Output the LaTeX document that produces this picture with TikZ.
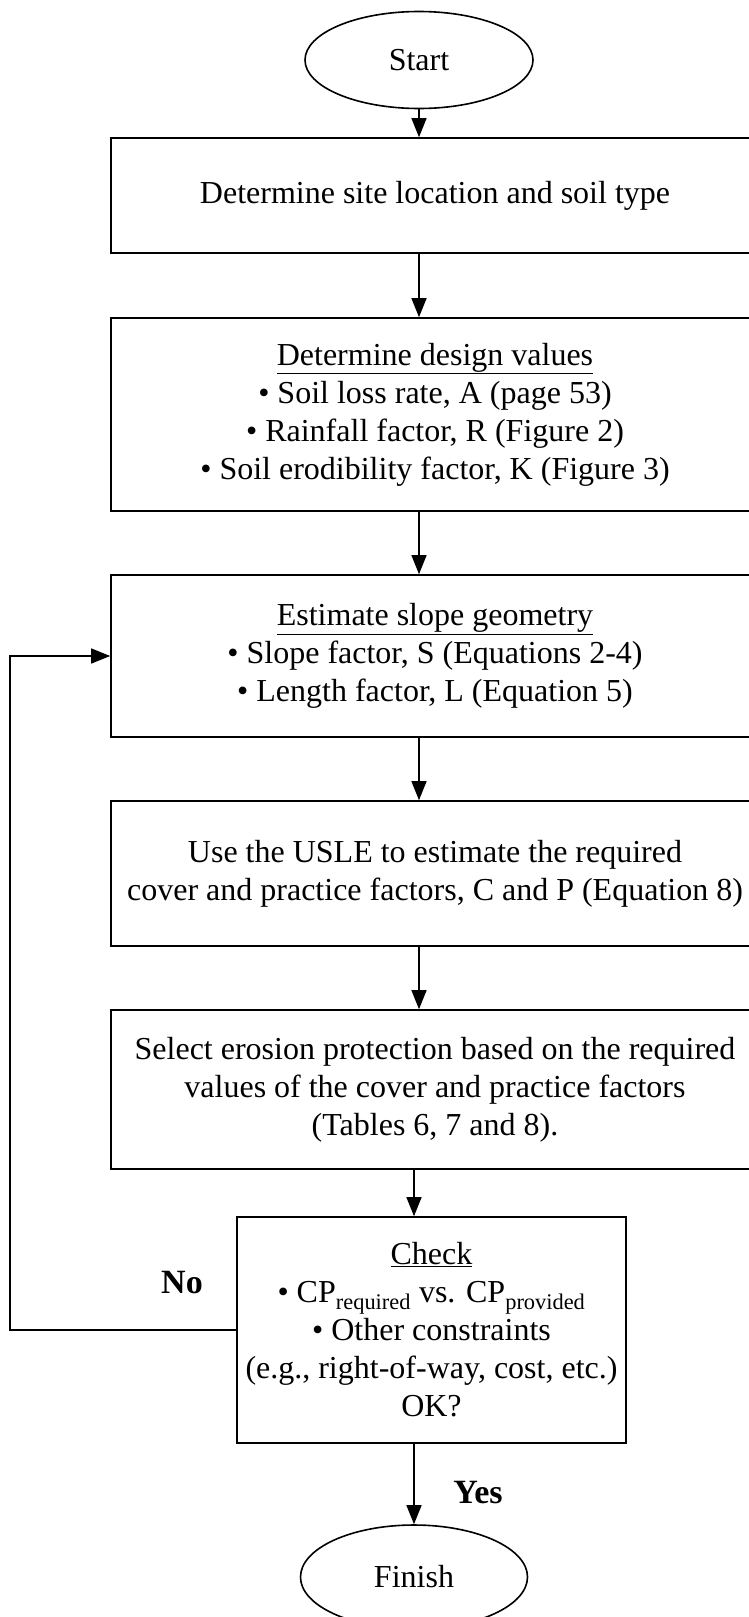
\documentclass[tikz,border=0pt]{standalone}
\usepackage{fontspec}
\setmainfont{Liberation Serif}
\usetikzlibrary{shapes.geometric,arrows.meta}
\tikzset{bx/.style = {rectangle, line width=1.6pt, draw, inner sep=0pt, align=center, minimum width=648pt},
           ov/.style = {ellipse, line width=1.6pt, draw, inner sep=0pt},
           lb/.style = {font=\fontsize{34}{40}\selectfont\bfseries}}

\begin{document}
\begin{tikzpicture}[x=1pt, y=-1pt, >={Triangle[length=19pt,width=15pt]}, line width=1.3pt, font=\fontsize{32}{38}\selectfont]
    \useasboundingbox (0,0) rectangle (748,1617);
    \node[ov, minimum width=228pt, minimum height=97pt] (start) at (419,60) {Start};
    \node[bx, minimum height=115pt] (b1) at (435,195.5) {Determine site location and soil type};
    \node[bx, minimum height=193pt] (b2) at (435,414.5) {\underline{Determine design values}\\ \textbullet{} Soil loss rate, A (page 53)\\ \textbullet{} Rainfall factor, R (Figure 2)\\ \textbullet{} Soil erodibility factor, K (Figure 3)};
    \node[bx, minimum height=162pt] (b3) at (435,656) {\underline{Estimate slope geometry}\\ \textbullet{} Slope factor, S (Equations 2-4)\\ \textbullet{} Length factor, L (Equation 5)};
    \node[bx, minimum height=145pt] (b4) at (435,873.5) {Use the USLE to estimate the required\\ cover and practice factors, C and P (Equation 8)};
    \node[bx, minimum height=159pt] (b5) at (435,1089.5) {Select erosion protection based on the required\\ values of the cover and practice factors\\ (Tables 6, 7 and 8).};
    \node[bx, minimum width=389pt, minimum height=226pt] (chk) at (431.5,1330) {\underline{Check}\\ \textbullet{} CP\textsubscript{required} vs. CP\textsubscript{provided}\\ \textbullet{} Other constraints\\ (e.g., right-of-way, cost, etc.)\\ OK?};
    \node[ov, minimum width=227pt, minimum height=104pt] (fin) at (414,1577) {Finish};
    \node[lb] (no) at (182,1283) {No};
    \node[lb] (yes) at (478,1493) {Yes};
    \coordinate (back) at (10,1330);
    \draw[->] (start) -- (start |- b1.north);
    \draw[->] (b1.south -| start) -- (b2.north -| start);
    \draw[->] (b2.south -| start) -- (b3.north -| start);
    \draw[->] (b3.south -| start) -- (b4.north -| start);
    \draw[->] (b4.south -| start) -- (b5.north -| start);
    \draw[->] (b5.south -| fin) -- (chk.north -| fin);
    \draw[->] (chk.south -| fin) -- (fin);
    \draw[->] (chk.west) -- (back) |- (b3.west);
\end{tikzpicture}
\end{document}
